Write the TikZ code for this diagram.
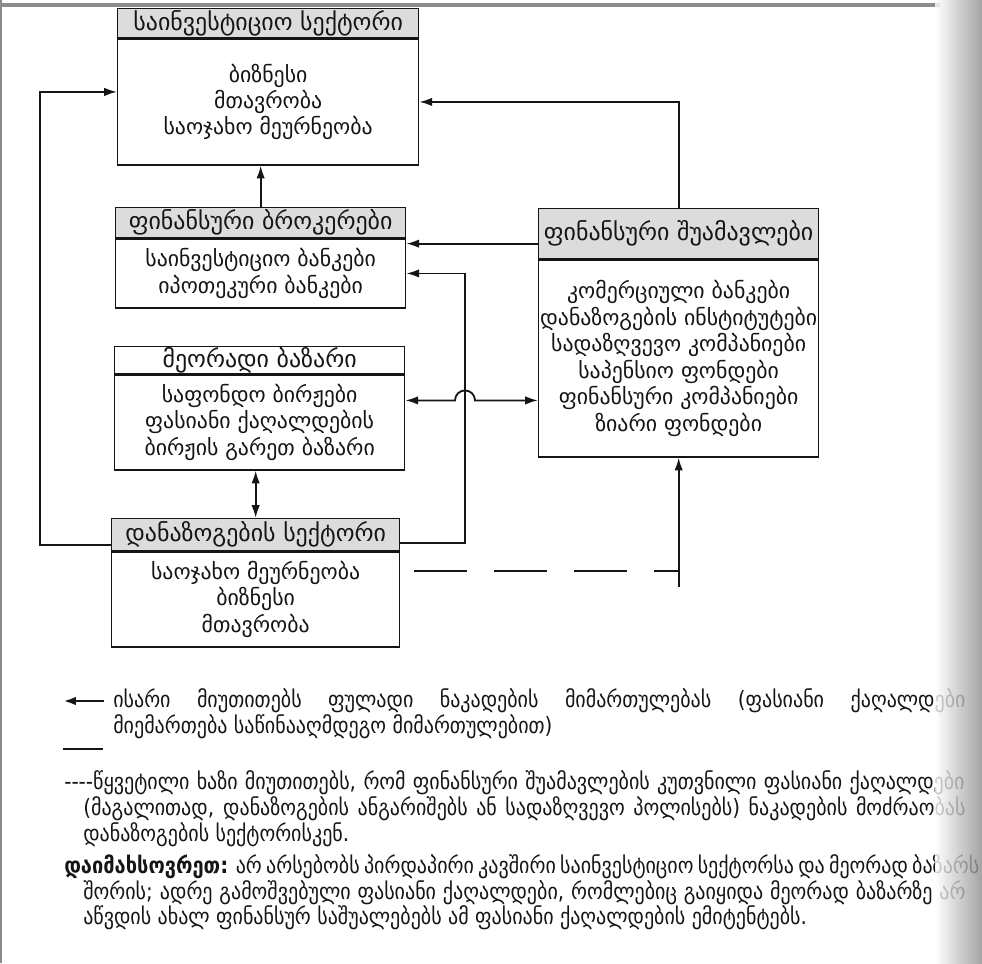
\documentclass[tikz,border=0pt]{standalone}
\usepackage{fontspec}
\setmainfont{DejaVu Sans}
\newfontfamily\flkeyfont{DejaVu Sans}[FakeStretch=0.89]
\usepackage{xcolor}
\usepackage{tikz}
\usetikzlibrary{arrows.meta,calc,positioning}
\definecolor{flInk}{HTML}{151515}
\definecolor{flHead}{HTML}{DCDCDC}
\definecolor{flScan}{HTML}{8C8C8C}
\tikzset{
  fl diagram/.style={x=0.025cm, y=-0.025cm, text=flInk,
    font=\fontsize{15.5}{18.8}\selectfont},
  fl head/.style={draw=flInk, fill=flHead, line width=0.9pt,
    inner sep=0pt, anchor=north west, font=\fontsize{17}{18}\selectfont},
  fl body/.style={draw=flInk, fill=white, line width=0.9pt,
    inner sep=0pt, align=center},
  fl arrow/.style={-{Latex[length=3.2mm,width=2.1mm]}, draw=flInk, line width=1.3pt},
  fl both/.style={fl arrow, {Latex[length=3.2mm,width=2.1mm]}-{Latex[length=3.2mm,width=2.1mm]}},
  fl dashed/.style={draw=flInk, line width=1.3pt, dash pattern=on 1.325cm off 0.675cm},
  fl key/.style={anchor=west, inner sep=0pt, font=\flkeyfont\fontsize{16}{18}\selectfont}
}

\begin{document}
\begin{tikzpicture}[fl diagram]
\useasboundingbox (0,0) rectangle (982,963);

% sectors and institutions
\node[fl head, minimum width=7.525cm, minimum height=0.725cm] (invh) at (117,8) {საინვესტიციო სექტორი};
\node[fl body, below=0pt of invh, minimum width=7.525cm, minimum height=3.15cm] (inv) {ბიზნესი\\მთავრობა\\საოჯახო მეურნეობა};

\node[fl head, minimum width=7.25cm, minimum height=0.75cm] (brkh) at (115,207) {ფინანსური ბროკერები};
\node[fl body, below=0pt of brkh, minimum width=7.25cm, minimum height=1.725cm] (brk) {საინვესტიციო ბანკები\\იპოთეკური ბანკები};

\node[fl head, fill=white, minimum width=7.25cm, minimum height=0.675cm] (sech) at (114,346) {მეორადი ბაზარი};
\node[fl body, below=0pt of sech, minimum width=7.25cm, minimum height=2.375cm] (sec) {საფონდო ბირჟები\\ფასიანი ქაღალდების\\ბირჟის გარეთ ბაზარი};

\node[fl head, minimum width=7.2cm, minimum height=0.8cm] (savh) at (111,518) {დანაზოგების სექტორი};
\node[fl body, below=0pt of savh, minimum width=7.2cm, minimum height=2.375cm] (sav) {საოჯახო მეურნეობა\\ბიზნესი\\მთავრობა};

\node[fl head, minimum width=7cm, minimum height=1.25cm] (finh) at (538,208) {ფინანსური შუამავლები};
\node[fl body, below=0pt of finh, minimum width=7cm, minimum height=4.925cm] (fin) {კომერციული ბანკები\\დანაზოგების ინსტიტუტები\\სადაზღვევო კომპანიები\\საპენსიო ფონდები\\ფინანსური კომპანიები\\ზიარი ფონდები};

\coordinate (leftrail) at (40,0);
\coordinate (riser) at (465,0);

% flows
\draw[fl arrow] (brkh.north) -- (brkh.north |- inv.south);
\draw[fl arrow] (finh.north) |- (inv.east);
\draw[fl arrow] ([yshift=-0.25cm]finh.west) -- ([yshift=-0.25cm]finh.west -| brk.east);
\draw[fl arrow] ([yshift=-0.2cm]savh.east) -| (riser |- brk.east) -- (brk.east);
\draw[fl arrow] ([yshift=-0.25cm]savh.west) -| ([yshift=0.25cm]leftrail |- inv.west) -- ([yshift=0.25cm]inv.west);
\draw[fl both] ([yshift=0.55cm]sec.east) coordinate (hopA)
  -- ([xshift=-0.25cm]riser |- hopA) arc[start angle=180, end angle=0, radius=0.25cm]
  -- (hopA -| fin.west);
\draw[fl both] (savh.north) -- (savh.north |- sec.south);
\coordinate (dstart) at ([shift={(0.35cm,0.72cm)}]sav.east);
\coordinate (dcorner) at (dstart -| fin.south);
\draw[fl dashed] (dstart) -- (dcorner);
\draw[fl arrow] ([yshift=-0.4cm]dcorner) -- (fin.south);

% key
\coordinate (keyA) at (104,701);
\coordinate (keyB) at (63,701);
\draw[fl arrow, line width=2pt] (keyA) -- (keyB);
\node[fl key] (key1) at (113,701) {\makebox[21.3cm][s]{ისარი მიუთითებს ფულადი ნაკადების მიმართულებას (ფასიანი ქაღალდები}};
\node[fl key] (key2) at (113,727) {მიემართება საწინააღმდეგო მიმართულებით)};
\coordinate (keyC) at (63,749);
\coordinate (keyD) at (103,749);
\draw[flInk, line width=2pt] (keyC) -- (keyD);
\node[fl key] (key3) at (64,783) {\makebox[22.5cm][s]{-{}-{}-{}-წყვეტილი ხაზი მიუთითებს, რომ ფინანსური შუამავლების კუთვნილი ფასიანი ქაღალდები}};
\node[fl key] (key4) at (83,809) {\makebox[22.05cm][s]{(მაგალითად, დანაზოგების ანგარიშებს ან სადაზღვევო პოლისებს) ნაკადების მოძრაობას}};
\node[fl key] (key5) at (83,835) {დანაზოგების სექტორისკენ.};
\node[fl key] (key6) at (64,867) {\makebox[22.5cm][s]{\textbf{დაიმახსოვრეთ:} არ არსებობს პირდაპირი კავშირი საინვესტიციო სექტორსა და მეორად ბაზარს}};
\node[fl key] (key7) at (83,893) {\makebox[22.05cm][s]{შორის; ადრე გამოშვებული ფასიანი ქაღალდები, რომლებიც გაიყიდა მეორად ბაზარზე არ}};
\node[fl key] (key8) at (83,918) {აწვდის ახალ ფინანსურ საშუალებებს ამ ფასიანი ქაღალდების ემიტენტებს.};

% page edge
\fill[flScan] (0,3) rectangle (940,7);
\fill[flScan] (0,0) rectangle (2,963);
\shade[left color=white, right color=flScan, opacity=0.8] (935,0) rectangle (982,963);
\end{tikzpicture}
\end{document}
